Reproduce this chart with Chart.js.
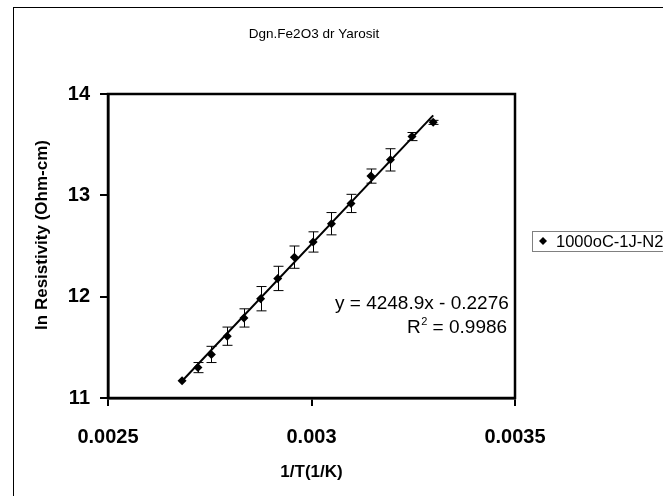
<!DOCTYPE html>
<html>
<head>
<meta charset="utf-8">
<script src="https://cdn.jsdelivr.net/npm/chart.js@4.4.1/dist/chart.umd.min.js"></script>
<style>
  html, body { margin: 0; padding: 0; background: #fff; }
  canvas { display: block; }
</style>
</head>
<body>
<canvas id="resChart" width="663" height="496"></canvas>
<script>
// data
const chartTitle = "Dgn.Fe2O3 dr Yarosit";
const seriesName = "1000oC-1J-N2";
const xTitle = "1/T(1/K)";
const yTitle = "ln Resistivity (Ohm-cm)";
const invTemp = [0.002682, 0.002721, 0.002754, 0.002793, 0.002834, 0.002875, 0.002917, 0.002958,
                 0.003004, 0.003049, 0.003097, 0.003146, 0.003194, 0.003247, 0.003299];
const lnResistivity = [11.17, 11.30, 11.43, 11.61, 11.79, 11.98, 12.18, 12.39,
                       12.54, 12.72, 12.92, 13.19, 13.35, 13.58, 13.72];
const errLnRes = [0, 0.05, 0.08, 0.09, 0.09, 0.12, 0.12, 0.11,
                  0.10, 0.11, 0.09, 0.07, 0.11, 0.04, 0.02];
const xTicks = [0.0025, 0.003, 0.0035];
const xTickLabels = ["0.0025", "0.003", "0.0035"];
const yMin = 11, yMax = 14;
const trendSlope = 4248.9;
const trendIntercept = -0.2276;
const trendR2 = "0.9986";

const FONT = "'Liberation Sans', Arial, sans-serif";

const points = invTemp.map((x, i) => ({ x, y: lnResistivity[i] }));
const xFirst = invTemp[0];
const xLast = invTemp[invTemp.length - 1];
const trendPoints = [
    { x: xFirst, y: trendSlope * xFirst + trendIntercept },
    { x: xLast, y: trendSlope * xLast + trendIntercept }
];

const excelLook = {
    id: "excelLook",
    beforeDraw(chart) {
        const ctx = chart.ctx;
        ctx.save();
        ctx.fillStyle = "#fff";
        ctx.fillRect(0, 0, chart.width, chart.height);
        // outer chart border (runs off the right and bottom edge)
        ctx.strokeStyle = "#000";
        ctx.lineWidth = 1;
        ctx.strokeRect(13.5, 7.5, 800, 600);
        // title
        ctx.fillStyle = "#000";
        ctx.font = "13.5px " + FONT;
        ctx.textAlign = "center";
        ctx.textBaseline = "alphabetic";
        ctx.fillText(chartTitle, 314, 38);
        // y axis title, sits a bit above the plot centre like the original
        ctx.font = "bold 17px " + FONT;
        ctx.translate(47, 235);
        ctx.rotate(-Math.PI / 2);
        ctx.fillText(yTitle, 0, 0);
        ctx.restore();
    },
    beforeDatasetsDraw(chart) {
        // error bars
        const ctx = chart.ctx;
        const xs = chart.scales.x, ys = chart.scales.y;
        ctx.save();
        ctx.strokeStyle = "#000";
        ctx.lineWidth = 1;
        invTemp.forEach((x, i) => {
            const e = errLnRes[i];
            if (!e) return;
            const px = Math.round(xs.getPixelForValue(x)) + 0.5;
            const top = ys.getPixelForValue(lnResistivity[i] + e);
            const bot = ys.getPixelForValue(lnResistivity[i] - e);
            ctx.beginPath();
            ctx.moveTo(px, top); ctx.lineTo(px, bot);
            ctx.moveTo(px - 5, top); ctx.lineTo(px + 5, top);
            ctx.moveTo(px - 5, bot); ctx.lineTo(px + 5, bot);
            ctx.stroke();
        });
        ctx.restore();
    },
    afterDraw(chart) {
        const ctx = chart.ctx;
        const a = chart.chartArea;
        ctx.save();
        // plot area frame
        ctx.strokeStyle = "#000";
        ctx.lineWidth = 2.5;
        ctx.strokeRect(a.left, a.top, a.right - a.left, a.bottom - a.top);

        // trendline label
        ctx.fillStyle = "#000";
        ctx.textBaseline = "alphabetic";
        ctx.textAlign = "left";
        ctx.font = "19px " + FONT;
        ctx.fillText("y = " + trendSlope + "x - " + Math.abs(trendIntercept), 335, 309);
        const rx = 407;
        ctx.fillText("R", rx, 333);
        const rw = ctx.measureText("R").width;
        ctx.font = "11px " + FONT;
        ctx.fillText("2", rx + rw + 0.5, 325);
        const sw = ctx.measureText("2").width;
        ctx.font = "19px " + FONT;
        ctx.fillText(" = " + trendR2, rx + rw + sw + 0.5, 333);

        // legend
        ctx.fillStyle = "#fff";
        ctx.fillRect(532, 231, 200, 20);
        ctx.strokeStyle = "#808080";
        ctx.lineWidth = 1;
        ctx.strokeRect(532.5, 231.5, 200, 20);
        ctx.fillStyle = "#000";
        ctx.beginPath();
        ctx.moveTo(543, 237); ctx.lineTo(547, 241); ctx.lineTo(543, 245); ctx.lineTo(539, 241);
        ctx.closePath();
        ctx.fill();
        ctx.font = "16.5px " + FONT;
        ctx.fillText(chart.data.datasets[0].label, 556, 247);
        ctx.restore();
    }
};

new Chart(document.getElementById("resChart"), {
    type: "scatter",
    plugins: [excelLook],
    data: {
        datasets: [
            {
                label: seriesName,
                data: points,
                pointStyle: "rectRot",
                pointRadius: 4.5,
                pointHoverRadius: 4.5,
                backgroundColor: "#000",
                borderColor: "#000",
                borderWidth: 0,
                order: 2
            },
            {
                label: "trend",
                type: "line",
                data: trendPoints,
                borderColor: "#000",
                borderWidth: 2,
                pointRadius: 0,
                fill: false,
                order: 1
            }
        ]
    },
    options: {
        responsive: false,
        animation: false,
        devicePixelRatio: 1,
        layout: { padding: { left: 0, right: 148, top: 94, bottom: 0 } },
        plugins: {
            legend: { display: false },
            title: { display: false },
            tooltip: { enabled: false }
        },
        scales: {
            x: {
                type: "linear",
                min: xTicks[0],
                max: xTicks[xTicks.length - 1],
                afterBuildTicks: (scale) => { scale.ticks = xTicks.map((v) => ({ value: v })); },
                afterFit: (scale) => { scale.height = 98; },
                grid: { drawOnChartArea: false, drawTicks: true, tickLength: 8, color: "#000", lineWidth: 2 },
                border: { display: true, color: "#000", width: 2.5 },
                ticks: {
                    color: "#000",
                    padding: 19,
                    maxRotation: 0,
                    font: { family: FONT, size: 20, weight: "bold" },
                    callback: (v, i) => xTickLabels[i]
                },
                title: {
                    display: true,
                    text: xTitle,
                    color: "#000",
                    font: { family: FONT, size: 17, weight: "bold" },
                    padding: { top: 0, bottom: 13 }
                }
            },
            y: {
                min: yMin,
                max: yMax,
                afterFit: (scale) => { scale.width = 108; },
                grid: { drawOnChartArea: false, drawTicks: true, tickLength: 8, color: "#000", lineWidth: 2 },
                border: { display: true, color: "#000", width: 2.5 },
                ticks: {
                    stepSize: 1,
                    color: "#000",
                    padding: 10,
                    font: { family: FONT, size: 20, weight: "bold" }
                },
                title: { display: false }
            }
        }
    }
});
</script>
</body>
</html>
